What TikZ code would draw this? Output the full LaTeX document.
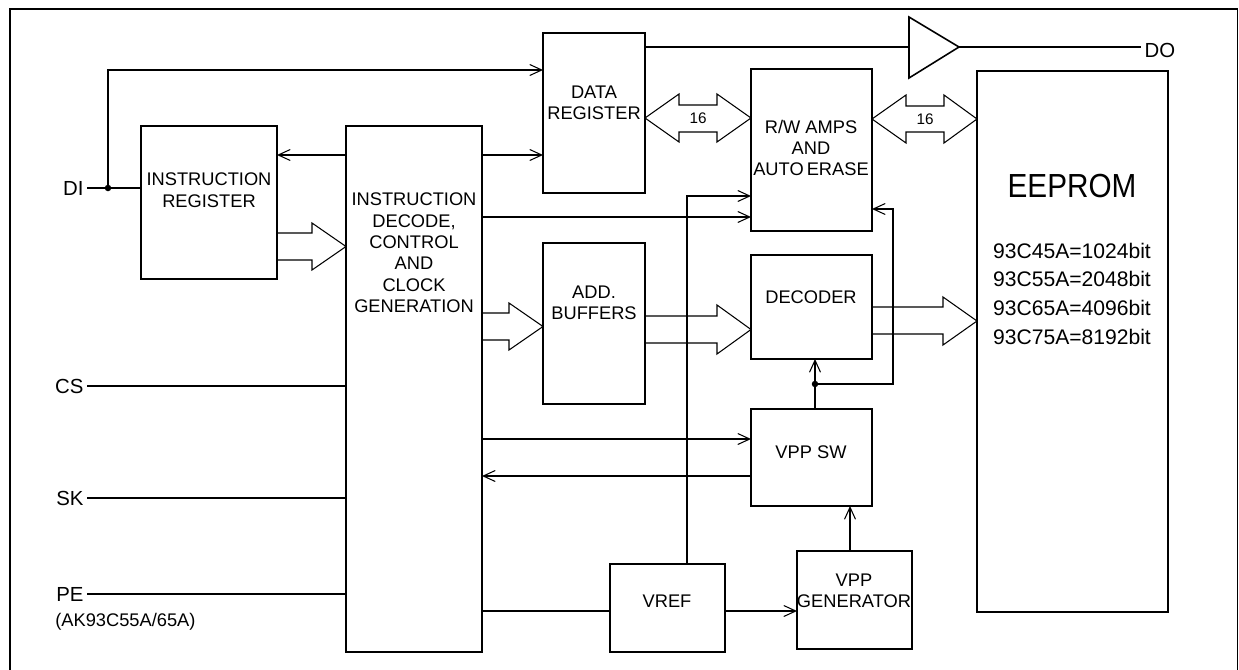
\documentclass[tikz,border=0pt]{standalone}
\usepackage{fontspec}
\setmainfont{Liberation Sans}
\usetikzlibrary{arrows.meta}
\newcommand\blk[5]{\node[box, minimum width={(#4-#2)*0.02cm}, minimum height={(#5-#3)*0.02cm}] (#1) at ({(#2+#4)/2},{(#3+#5)/2}) {};}
\begin{document}
\begin{tikzpicture}[x=0.02cm,y=-0.02cm,
 box/.style={draw, line width=1.1pt, inner sep=0pt, outer sep=0pt},
 wire/.style={line width=0.6pt},
 arr/.style={wire, -{Straight Barb[length=2.4mm,width=2.2mm]}},
 bus/.style={draw, line width=0.6pt, line join=miter},
 txt/.style={font=\fontsize{10.4}{12.2}\selectfont, inner sep=0pt, align=center, anchor=north},
 lbl/.style={font=\fontsize{11.6}{14}\selectfont, inner sep=0pt, outer sep=2pt},
 small/.style={font=\fontsize{8.7}{10}\selectfont, inner sep=0pt},
 dot/.style={circle, fill, inner sep=0pt, minimum size=1.3mm}]
\useasboundingbox (0,0) rectangle (1239,669);
\clip (0,0) rectangle (1239,669);
\draw[line width=1.1pt] (10,700) -- (10,9) -- (1237.5,9) -- (1237.5,700);

% blocks
\blk{ir}{141}{126}{277}{279}
\blk{dec}{346}{126}{482}{652}
\blk{dr}{543}{33}{645}{193}
\blk{rw}{751}{69}{872}{231}
\blk{eep}{977}{71}{1168}{612}
\blk{add}{543}{243}{645}{404}
\blk{dcd}{751}{255}{872}{359}
\blk{vsw}{751}{409}{872}{506}
\blk{vref}{610}{564}{725}{652}
\blk{vgen}{797}{551}{912}{649}

% block texts
\node[txt] (irt) at (209,172.5) {INSTRUCTION\\REGISTER};
\node[txt] (dect) at (414,192.5) {INSTRUCTION\\DECODE,\\CONTROL\\AND\\CLOCK\\GENERATION};
\node[txt] (drt) at (594,85.5) {DATA\\REGISTER};
\node[txt] (rwt) at (811,119.5) {R/W AMPS\\AND\\AUTO\,ERASE};
\node[txt] (addt) at (594,285.5) {ADD.\\BUFFERS};
\node[txt] (dcdt) at (811,290.5) {DECODER};
\node[txt] (vswt) at (811,445.5) {VPP SW};
\node[txt] (vreft) at (667,594.5) {VREF};
\node[txt] (vgent) at (854,573.5) {VPP\\GENERATOR};
\node[inner sep=0pt, font=\fontsize{19}{22}\selectfont] (eept) at (1072,186) {\scalebox{0.89}[1]{EEPROM}};
\node[inner sep=0pt, font=\fontsize{12}{14}\selectfont] (p1) at (1072,251) {93C45A=1024bit};
\node[inner sep=0pt, font=\fontsize{12}{14}\selectfont] (p2) at (1072,279) {93C55A=2048bit};
\node[inner sep=0pt, font=\fontsize{12}{14}\selectfont] (p3) at (1072,308) {93C65A=4096bit};
\node[inner sep=0pt, font=\fontsize{12}{14}\selectfont] (p4) at (1072,337) {93C75A=8192bit};

% pin labels
\node[lbl, anchor=east] (di) at (87,188) {DI};
\node[lbl, anchor=east] (cs) at (87,386) {CS};
\node[lbl, anchor=east] (sk) at (87,498) {SK};
\node[lbl, anchor=east] (pe) at (87,594) {PE};
\node[inner sep=0pt, anchor=base west, font=\fontsize{10.4}{12}\selectfont] (pen) at (55,626.5) {(AK93C55A/65A)};
\node[lbl, anchor=west] (do) at (1141,50) {DO};

% DI input
\node[dot] (j1) at (108,188) {};
\draw[wire] (di.east) -- (di.east -| ir.west);
\draw[arr] (j1.center) |- (dr.west |- 0,70);

% decode to registers
\draw[arr] (dec.west |- 0,155) -- (ir.east |- 0,155);
\draw[arr] (dec.east |- 0,155) -- (dr.west |- 0,155);
\draw[arr] (dec.east |- 0,217) -- (rw.west |- 0,217);

% output buffer
\coordinate (bufin) at (909,47);
\coordinate (bufout) at (959,47);
\draw[line width=0.9pt, line join=miter] (909,17) -- (bufout) -- (909,78) -- cycle;
\draw[wire] (dr.east |- bufin) -- (bufin);
\draw[wire] (bufout) -- (bufout -| do.west);

% 16-bit buses
\draw[bus] (dr.east |- 0,118) -- (679,94) -- (679,105) -- (717,105) -- (717,94) -- (rw.west |- 0,118) -- (717,142) -- (717,132) -- (679,132) -- (679,142) -- cycle;
\node[small] (b1) at (698,118) {16};
\draw[bus] (rw.east |- 0,119) -- (906,95) -- (906,106) -- (944,106) -- (944,95) -- (eep.west |- 0,119) -- (944,143) -- (944,132) -- (906,132) -- (906,143) -- cycle;
\node[small] (b2) at (925,119) {16};

% wide arrows
\draw[bus] (ir.east |- 0,233) -- (312,233) -- (312,223) -- (dec.west |- 0,246.5) -- (312,270) -- (312,260) -- (ir.east |- 0,260);
\draw[bus] (dec.east |- 0,313) -- (509,313) -- (509,303) -- (add.west |- 0,326.5) -- (509,350) -- (509,340) -- (dec.east |- 0,340);
\draw[bus] (add.east |- 0,316) -- (717,316) -- (717,305) -- (dcd.west |- 0,329.5) -- (717,354) -- (717,343) -- (add.east |- 0,343);
\draw[bus] (dcd.east |- 0,307) -- (943,307) -- (943,297) -- (eep.west |- 0,321) -- (943,345) -- (943,334) -- (dcd.east |- 0,334);

% VREF line to R/W amps
\draw[arr] (vref.north -| 687,0) |- (rw.west |- 0,196);

% VPP SW outputs
\node[dot] (j2) at (815,384) {};
\draw[wire] (vsw.north -| j2) -- (j2.center);
\draw[arr] (j2.center) -- (dcd.south -| j2);
\draw[arr] (j2.center) -- (j2 -| 893,0) |- (rw.east |- 0,209);

% control lines
\draw[arr] (dec.east |- 0,439) -- (vsw.west |- 0,439);
\draw[arr] (vsw.west |- 0,476) -- (dec.east |- 0,476);
\draw[arr] (vgen.north -| 850,0) -- (vsw.south -| 850,0);
\draw[wire] (dec.east |- 0,611) -- (vref.west |- 0,611);
\draw[arr] (vref.east |- 0,611) -- (vgen.west |- 0,611);

% pins
\draw[wire] (cs.east) -- (cs.east -| dec.west);
\draw[wire] (sk.east) -- (sk.east -| dec.west);
\draw[wire] (pe.east) -- (pe.east -| dec.west);
\end{tikzpicture}
\end{document}
